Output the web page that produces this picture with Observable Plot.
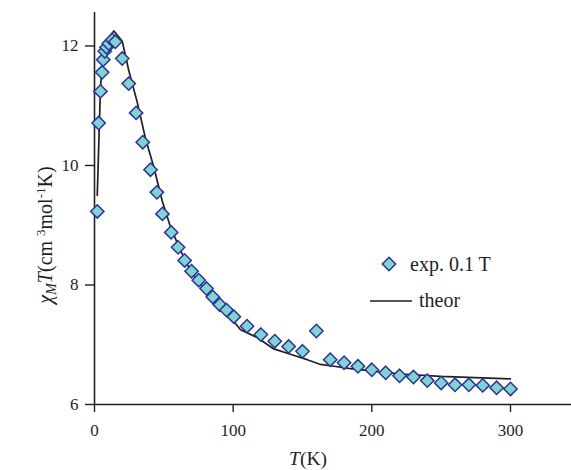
<!DOCTYPE html>
<html>
<head>
<meta charset="utf-8">
<script src="https://cdn.jsdelivr.net/npm/d3@7"></script>
<script src="https://cdn.jsdelivr.net/npm/@observablehq/plot@0.6"></script>
<style>
  html, body { margin: 0; padding: 0; background: #fff; }
  #chart svg { display: block; }
  #chart svg, #chart svg g, #chart svg text, #chart svg tspan { font-family: "Liberation Serif", serif !important; }
</style>
</head>
<body>
<div id="chart"></div>
<script>
// Experimental data (exp. 0.1 T)
const T_exp = [2,3,4.3,5.5,6.3,7.4,8.7,10.3,12.8,15,20,24.7,30,34.8,40.4,45,49,55.3,60.3,65,70,75.2,80.8,85.3,90.4,95.2,100.5,110,120,130,140,150,160,170,180,190,200,210,220,230,240,250,260,270,280,290,300];
const chi_exp = [9.23,10.71,11.24,11.56,11.77,11.91,11.98,12.04,12.10,12.07,11.79,11.37,10.88,10.39,9.93,9.55,9.19,8.88,8.63,8.41,8.23,8.08,7.94,7.80,7.67,7.58,7.47,7.31,7.17,7.06,6.97,6.89,7.23,6.75,6.70,6.64,6.58,6.53,6.48,6.46,6.40,6.36,6.33,6.33,6.32,6.28,6.26];

// Theoretical curve
const T_th = [2,4.3,6,8,10.3,14,20,24.7,30.8,36.8,42.8,48.8,54.8,62,69.2,78.8,88.5,98,105.3,117.3,129.3,141.3,153.4,163,172.6,184.6,201.4,220.7,249.5,300];
const chi_th = [9.50,11.31,11.76,11.98,12.15,12.25,12.08,11.59,11.06,10.45,9.97,9.41,8.97,8.58,8.24,7.94,7.66,7.46,7.25,7.12,6.93,6.84,6.75,6.67,6.64,6.60,6.56,6.51,6.47,6.43];

const xTicks = [0,100,200,300];
const yTicks = [6,8,10,12];
const legendLabels = ["exp. 0.1 T", "theor"];

const expData = T_exp.map((t,i) => ({T: t, v: chi_exp[i]}));
const thData = T_th.map((t,i) => ({T: t, v: chi_th[i]}));

const FILL = "#80d3cf";
const STROKE = "#2b3399";
const INK = "#1f1f1f";
const FONT = "Liberation Serif, serif";

const plot = Plot.plot({
  width: 571,
  height: 470,
  marginLeft: 94,
  marginRight: 0,
  marginTop: 12,
  marginBottom: 66,
  style: {fontFamily: FONT, fontSize: "17px", color: INK, background: "#fff"},
  x: {domain: [0, 344]},
  y: {domain: [6, 12.56]},
  marks: [
    Plot.ruleY([6], {stroke: INK, strokeWidth: 1.6}),
    Plot.ruleX([0], {stroke: INK, strokeWidth: 1.6}),
    Plot.axisX({ticks: xTicks, tickSize: 8, tickPadding: 11, tickFormat: d => String(d), label: null, stroke: INK, strokeWidth: 1.4, fontSize: 17, fontFamily: FONT}),
    Plot.axisY({ticks: yTicks, tickSize: 9, tickPadding: 7, tickFormat: d => String(d), label: null, stroke: INK, strokeWidth: 1.4, fontSize: 17, fontFamily: FONT}),
    Plot.line(thData, {x: "T", y: "v", stroke: INK, strokeWidth: 1.7}),
    Plot.dot(expData, {x: "T", y: "v", symbol: "diamond2", r: 6, fill: FILL, stroke: STROKE, strokeWidth: 1.5, fillOpacity: 1})
  ]
});

document.getElementById("chart").appendChild(plot);

const svg = d3.select(plot);

// X-axis label: T(K)
const xl = svg.append("text")
  .attr("x", 308).attr("y", 465)
  .attr("text-anchor", "middle")
  .attr("font-family", FONT).attr("font-size", 19.5).attr("fill", INK);
xl.append("tspan").attr("font-style", "italic").text("T");
xl.append("tspan").text("(K)");

// Y-axis label: χMT(cm3mol-1K)
const yl = svg.append("text")
  .attr("transform", "translate(52,235) rotate(-90)")
  .attr("text-anchor", "middle")
  .attr("font-family", FONT).attr("font-size", 20).attr("fill", INK);
yl.append("tspan").attr("font-style", "italic").text("χ");
yl.append("tspan").attr("font-style", "italic").attr("font-size", 14).attr("dy", 4).text("M");
yl.append("tspan").attr("font-style", "italic").attr("dy", -4).text("T");
yl.append("tspan").text("(cm ");
yl.append("tspan").attr("font-size", 13).attr("dy", -7).text("3");
yl.append("tspan").attr("dy", 7).text("mol");
yl.append("tspan").attr("font-size", 13).attr("dy", -7).text("-1");
yl.append("tspan").attr("dy", 7).text("K)");

// Legend
const lg = svg.append("g").attr("font-family", FONT).attr("font-size", 20).attr("fill", INK).attr("text-anchor", "start");
lg.append("path")
  .attr("d", d3.symbol(d3.symbolDiamond2, Math.PI * 6 * 6)())
  .attr("transform", "translate(389,264)")
  .attr("fill", FILL).attr("stroke", STROKE).attr("stroke-width", 1.5);
lg.append("text").attr("x", 410).attr("y", 271).attr("text-anchor", "start").text(legendLabels[0]);
lg.append("line").attr("x1", 370).attr("x2", 412).attr("y1", 301).attr("y2", 301)
  .attr("stroke", INK).attr("stroke-width", 1.7);
lg.append("text").attr("x", 419).attr("y", 307).attr("text-anchor", "start").text(legendLabels[1]);
</script>
</body>
</html>
